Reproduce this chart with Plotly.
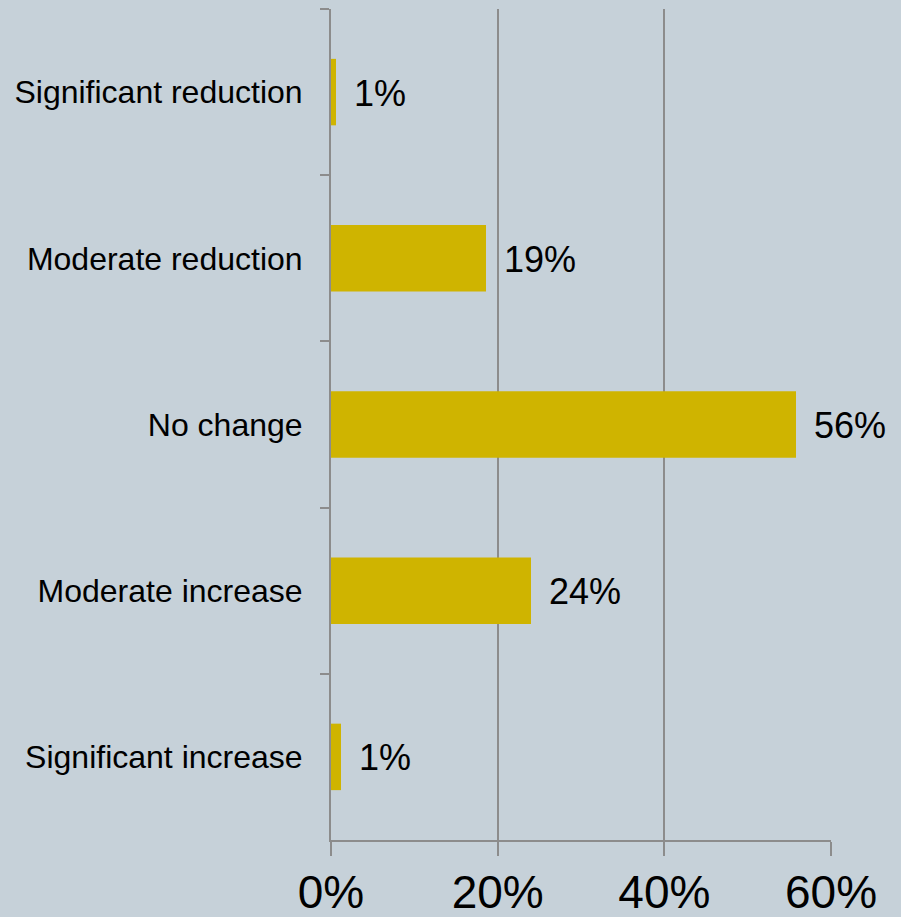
import plotly.graph_objects as go

# Survey responses: share of respondents per expected change
categories = [
    "Significant reduction",
    "Moderate reduction",
    "No change",
    "Moderate increase",
    "Significant increase",
]
shares = [0.6, 18.6, 55.8, 24.0, 1.2]
x_ticks = [0, 20, 40, 60]
x_tick_labels = [f"{v}%" for v in x_ticks]

BG = "#C6D1D9"
BAR = "#CFB400"
LINE = "#8C8C8C"
FONT = "Liberation Sans, Arial, sans-serif"

fig = go.Figure(
    go.Bar(
        x=shares,
        y=categories,
        orientation="h",
        marker=dict(color=BAR, line=dict(width=0)),
        hoverinfo="skip",
    )
)

# Value labels placed just to the right of each bar end
for cat, val in zip(categories, shares):
    fig.add_annotation(
        x=val,
        y=cat,
        text=f"{val:.0f}%",
        showarrow=False,
        xanchor="left",
        yanchor="middle",
        xshift=16,
        yshift=-1,
        font=dict(family=FONT, size=36, color="#000000"),
    )

fig.update_layout(
    width=901,
    height=917,
    margin=dict(l=331, r=70, t=9, b=77),
    paper_bgcolor=BG,
    plot_bgcolor=BG,
    bargap=0.6,
    showlegend=False,
    font=dict(family=FONT, color="#000000"),
)

fig.update_xaxes(
    range=[0, 60],
    tickmode="array",
    tickvals=x_ticks,
    ticktext=x_tick_labels,
    showgrid=True,
    gridcolor=LINE,
    gridwidth=2,
    zeroline=False,
    showline=True,
    linecolor=LINE,
    linewidth=2,
    ticks="outside",
    ticklen=14,
    tickwidth=2,
    tickcolor=LINE,
    ticklabelstandoff=-3,
    tickfont=dict(family=FONT, size=46, color="#000000"),
    automargin=False,
    fixedrange=True,
)

fig.update_yaxes(
    categoryorder="array",
    categoryarray=categories,
    autorange="reversed",
    showgrid=False,
    zeroline=False,
    showline=True,
    linecolor=LINE,
    linewidth=2,
    ticks="outside",
    tickson="boundaries",
    ticklen=9,
    tickwidth=2,
    tickcolor=LINE,
    ticklabelstandoff=20,
    tickfont=dict(family=FONT, size=32, color="#000000"),
    automargin=False,
    fixedrange=True,
)

fig.write_html("out.html")
